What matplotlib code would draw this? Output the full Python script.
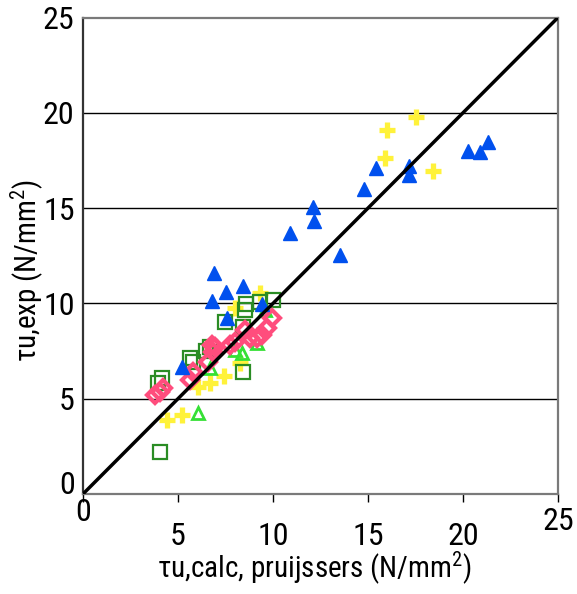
import matplotlib
matplotlib.use("Agg")
import matplotlib.pyplot as plt
from matplotlib.transforms import ScaledTranslation

plt.rcParams['font.family'] = ['Liberation Sans Narrow', 'Arial Narrow', 'Roboto Condensed', 'DejaVu Sans']

# Data
blue_x = [6.91, 7.54, 8.44, 6.80, 7.59, 9.44, 5.22, 10.92, 12.13, 12.18, 13.50, 14.77,
          15.40, 17.14, 17.14, 20.25, 20.89, 21.31]
blue_y = [11.58, 10.59, 10.90, 10.12, 9.22, 9.96, 6.66, 13.68, 15.04, 14.31, 12.53, 15.99,
          17.09, 17.19, 16.72, 17.98, 17.92, 18.45]

yellow_x = [17.51, 15.98, 15.88, 18.41, 9.34, 8.02, 8.28, 7.44, 6.70, 6.07, 5.22, 4.43]
yellow_y = [19.76, 19.08, 17.61, 16.93, 10.53, 9.75, 6.87, 6.18, 5.82, 5.61, 4.14, 3.88]

lgreen_x = [6.07, 6.70, 8.02, 8.39, 9.18, 9.60]
lgreen_y = [4.25, 6.60, 7.55, 7.39, 7.91, 9.64]

dgreen_x = [4.06, 4.17, 3.96, 5.64, 5.80, 6.70, 6.49, 7.49, 8.54, 8.60, 8.44, 9.34, 10.02, 8.44]
dgreen_y = [2.20, 6.08, 5.82, 7.13, 6.92, 7.70, 7.49, 9.01, 9.64, 9.96, 8.75, 10.06, 10.17, 6.39]

pink_x = [3.80, 4.06, 4.22, 5.64, 5.80, 6.80, 6.86, 6.59, 6.96, 7.75, 8.02, 8.54, 8.81,
          9.18, 9.44, 9.70, 9.97]
pink_y = [5.19, 5.35, 5.56, 5.97, 6.39, 7.81, 7.44, 6.92, 7.70, 7.81, 7.97, 8.60, 8.18,
          8.18, 8.33, 8.70, 9.22]

ticks = [0, 5, 10, 15, 20, 25]
tick_labels = ['0', '5', '10', '15', '20', '25']

fig = plt.figure(figsize=(5.77, 5.94), dpi=100)
ax = fig.add_axes([83/577, 1-494/594, 475/577, 476.5/594])

# grid lines
for g in [5, 10, 15, 20]:
    ax.axhline(g, color='black', lw=1.0, zorder=1)

# 1:1 line
ax.plot([0, 25], [0, 25], color='black', lw=2.5, zorder=5, solid_capstyle='butt')

ax.plot(dgreen_x, dgreen_y, 's', ms=10, mfc='none', mec='#2a8c24', mew=1.6, zorder=3)
ax.plot(yellow_x, yellow_y, '+', ms=11.5, mec='#fff23a', mew=3.8, zorder=2)
ax.plot(lgreen_x, lgreen_y, '^', ms=9, mfc='none', mec='#35e035', mew=2.0, zorder=3)
ax.plot(pink_x, pink_y, 'D', ms=8.5, mfc='none', mec='#ff4d7d', mew=3.0, zorder=4)
ax.plot(blue_x, blue_y, '^', ms=10.5, color='#0050ee', mec='#0050ee', zorder=4)

ax.set_xlim(0, 25)
ax.set_ylim(0, 25)
ax.set_xticks(ticks)
ax.set_xticklabels(tick_labels)
ax.set_yticks(ticks)
ax.set_yticklabels(tick_labels)
ax.tick_params(axis='x', direction='out', length=6, width=1, pad=14, labelsize=23, color='black')
ax.tick_params(axis='y', length=0, pad=6, labelsize=23)
ax.tick_params(axis='x', which='both', top=False)

for s in ax.spines.values():
    s.set_color('#7a7a7a')
    s.set_linewidth(1.6)
ax.spines['left'].set_color('#333333')

# individual label offsets as in reference
xl = ax.get_xticklabels()
xl[0].set_transform(xl[0].get_transform() + ScaledTranslation(0, 0.24, fig.dpi_scale_trans))
xl[-1].set_transform(xl[-1].get_transform() + ScaledTranslation(0, 0.15, fig.dpi_scale_trans))
yl = ax.get_yticklabels()
yl[0].set_transform(yl[0].get_transform() + ScaledTranslation(0, 0.11, fig.dpi_scale_trans))

ax.set_xlabel(r'τu,calc, pruijssers (N/mm$\mathregular{^2}$)', fontsize=21)
ax.xaxis.set_label_coords(0.488, -0.118)
ax.set_ylabel(r'τu,exp (N/mm$\mathregular{^2}$)', fontsize=21)
ax.yaxis.set_label_coords(-0.078, 0.47)

fig.savefig('out.png', dpi=100)
